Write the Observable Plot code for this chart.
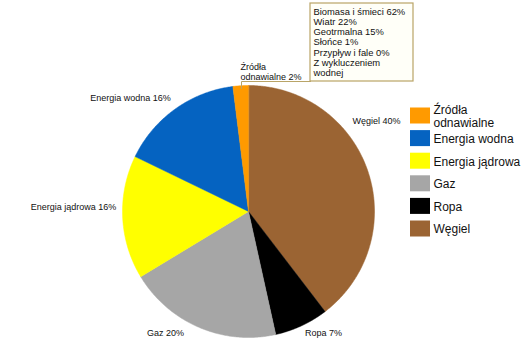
<!DOCTYPE html>
<html>
<head>
<meta charset="utf-8">
<script src="https://cdn.jsdelivr.net/npm/d3@7"></script>
<script src="https://cdn.jsdelivr.net/npm/@observablehq/plot@0.6"></script>
<style>
  html, body { margin: 0; padding: 0; background: #fff; }
  #chart svg { display: block; font-family: "Liberation Sans", Arial, sans-serif; }
</style>
</head>
<body>
<div id="chart"></div>
<script>
// ---- data ----
const categories = ["Węgiel", "Ropa", "Gaz", "Energia jądrowa", "Energia wodna", "Źródła odnawialne"];
const values = [40, 7, 20, 16, 16, 2];
const colors = ["#9b6433", "#000000", "#a6a6a6", "#ffff00", "#0563c1", "#ff9a00"];
const sliceLabels = ["Węgiel 40%", "Ropa 7%", "Gaz 20%", "Energia jądrowa 16%", "Energia wodna 16%", "Źródła\nodnawialne 2%"];
const legendLabels = ["Źródła\nodnawialne", "Energia wodna", "Energia jądrowa", "Gaz", "Ropa", "Węgiel"];
const legendKeys = ["Źródła odnawialne", "Energia wodna", "Energia jądrowa", "Gaz", "Ropa", "Węgiel"];
const renewableNote = ["Biomasa i śmieci 62%", "Wiatr 22%", "Geotrmalna 15%", "Słońce 1%", "Przypływ i fale 0%", "Z wykluczeniem", "wodnej"];

// ---- layout ----
const W = 525, H = 356;
const cx = 248, cy = 211, R = 126;
const labelPos = [[376, 121, "middle"], [323, 333, "middle"], [165, 333, "middle"], [73, 207, "middle"], [130, 98, "middle"], [240, 71, "start"]];

const pie = d3.pie().sort(null).value(d => d.value)(categories.map((c, i) => ({cat: c, value: values[i]})));
const slicePts = [];
for (const s of pie) {
  slicePts.push({cat: s.data.cat, x: cx, y: cy});
  const n = Math.max(2, Math.ceil((s.endAngle - s.startAngle) / (Math.PI / 360)));
  for (let k = 0; k <= n; k++) {
    const a = s.startAngle + (s.endAngle - s.startAngle) * k / n;
    slicePts.push({cat: s.data.cat, x: cx + R * Math.sin(a), y: cy - R * Math.cos(a)});
  }
}

const labelData = sliceLabels.map((t, i) => ({t, x: labelPos[i][0], y: labelPos[i][1], anchor: labelPos[i][2]}));
const legendData = legendKeys.map((k, i) => ({key: k, label: legendLabels[i], y: 115.5 + i * 22.6}));
const noteData = renewableNote.map((t, i) => ({t, y: 11 + i * 10.3}));
const boxColor = "#b9a467";

const chart = Plot.plot({
  width: W, height: H,
  margin: 0,
  x: {domain: [0, W], range: [0, W], axis: null},
  y: {domain: [0, H], range: [0, H], axis: null},
  color: {domain: categories, range: colors},
  style: {background: "#fff", fontFamily: "Liberation Sans, Arial, sans-serif"},
  marks: [
    Plot.line(slicePts, {x: "x", y: "y", z: "cat", fill: "cat", stroke: "cat", strokeWidth: 0.5, curve: "linear-closed"}),
    // callout box
    Plot.line([{x: 310, y: 81}, {x: 241, y: 81}, {x: 241, y: 88}], {x: "x", y: "y", stroke: boxColor, strokeWidth: 1}),
    Plot.rect([0], {x1: 310, x2: 413, y1: 3, y2: 81, fill: "#fffff8", stroke: boxColor, strokeWidth: 1.2}),
    Plot.text(noteData, {x: 313, y: "y", text: "t", textAnchor: "start", fontSize: 9.4, fill: "#111"}),
    // slice labels
    Plot.text(labelData.filter(d => d.anchor === "middle"), {x: "x", y: "y", text: "t", textAnchor: "middle", fontSize: 9, fill: "#111"}),
    Plot.text(labelData.filter(d => d.anchor === "start"), {x: "x", y: "y", text: "t", textAnchor: "start", fontSize: 9, lineHeight: 1.1, fill: "#111"}),
    // legend
    Plot.rect(legendData, {x1: 410, x2: 430, y1: d => d.y - 8, y2: d => d.y + 8, fill: "key"}),
    Plot.text(legendData, {x: 433, y: "y", text: "label", textAnchor: "start", fontSize: 12, lineHeight: 1.12, fill: "#111"})
  ]
});
document.getElementById("chart").append(chart);
</script>
</body>
</html>
